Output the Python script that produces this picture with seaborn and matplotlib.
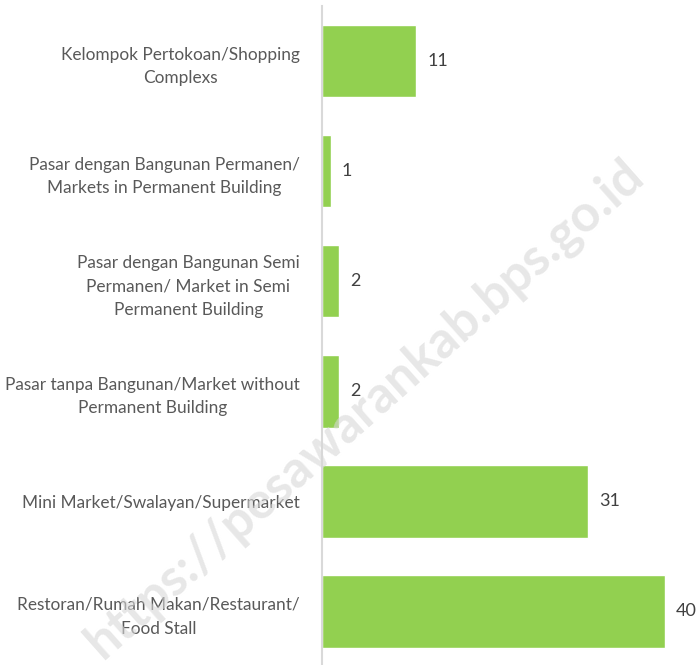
import matplotlib
matplotlib.use("Agg")
import matplotlib.pyplot as plt
import seaborn as sns
import pandas as pd

# kategori dari atas ke bawah
categories = [
    "Kelompok Pertokoan/Shopping\nComplexs",
    "Pasar dengan Bangunan Permanen/\nMarkets in Permanent Building",
    "Pasar dengan Bangunan Semi\nPermanen/ Market in Semi\nPermanent Building",
    "Pasar tanpa Bangunan/Market without\nPermanent Building",
    "Mini Market/Swalayan/Supermarket",
    "Restoran/Rumah Makan/Restaurant/\nFood Stall",
]
counts = [11, 1, 2, 2, 31, 40]

df = pd.DataFrame({"kategori": categories, "jumlah": counts})

sns.set_style("white")
plt.rcParams["font.family"] = ["Lato", "DejaVu Sans"]

fig = plt.figure(figsize=(6.99, 6.65), dpi=100)
ax = fig.add_axes([0.4607, -0.002, 0.5393, 0.993])

sns.barplot(data=df, x="jumlah", y="kategori", order=categories,
            color="#92D050", saturation=1, width=0.66, ax=ax)

ax.set_xlim(0, 44)
ax.set_ylim(5.5, -0.5)
ax.set_xlabel("")
ax.set_ylabel("")
ax.set_xticks([])
for s in ["top", "right", "bottom"]:
    ax.spines[s].set_visible(False)
ax.spines["left"].set_color("#d9d9d9")
ax.spines["left"].set_linewidth(1.5)
ax.tick_params(axis="y", length=0, pad=16, labelsize=12.4, labelcolor="#595959")
for t in ax.get_yticklabels():
    t.set_multialignment("center")
    t.set_linespacing(1.6)

for i, v in enumerate(counts):
    ax.text(v + 1.3, i, str(v), va="center", ha="left", fontsize=13, color="#404040")

# watermark
fig.text(0.522, 0.385, "https://pesawarankab.bps.go.id", rotation=41.5,
         ha="center", va="center", fontsize=37, fontweight="bold",
         color="#d8d8d8", alpha=0.6, zorder=10)

fig.savefig("out.png", dpi=100)
